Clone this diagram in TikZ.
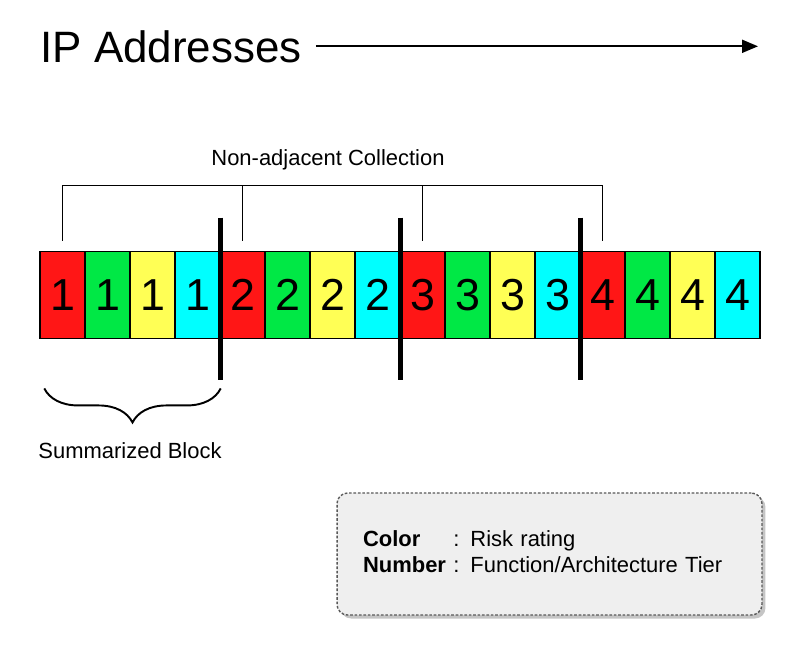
\documentclass[tikz,border=0pt]{standalone}
\usepackage{fontspec}
\setmainfont{Liberation Sans}
\usetikzlibrary{arrows.meta, positioning, calc, shadows, backgrounds,
                decorations.pathreplacing}
\definecolor{riskred}{HTML}{FF1616}
\definecolor{riskgreen}{HTML}{00E845}
\definecolor{riskyellow}{HTML}{FFFF55}
\definecolor{riskcyan}{HTML}{00FFFF}
\definecolor{legendgray}{HTML}{EFEFEF}

\begin{document}
\begin{tikzpicture}[
    x=0.02cm, y=-0.02cm,
    cell/.style={rectangle, draw=black, line width=0.8pt, fill=#1,
                 minimum width=0.9cm, minimum height=1.75cm, inner sep=0pt,
                 font=\fontsize{25.5}{30}\selectfont},
    divider/.style={line width=2.6pt},
    bracket/.style={line width=0.7pt},
    caption/.style={font=\fontsize{12.5}{15}\selectfont, inner sep=0pt},
    legendbox/.style={rectangle, rounded corners=6pt, draw=black!65, dashed,
                      dash pattern=on 1.5pt off 1pt, line width=0.8pt, fill=legendgray,
                      drop shadow={opacity=0.45, shadow xshift=2pt, shadow yshift=-2pt},
                      minimum width=8.5cm, minimum height=2.44cm,
                      text width=7.46cm, inner xsep=0.52cm, align=left,
                      font=\fontsize{12.5}{14.7}\selectfont}
]
\useasboundingbox (0,0) rectangle (800,660);
\fill[white] (0,0) rectangle (800,660);

% title and direction arrow
\node[anchor=base west, inner sep=0pt, font=\fontsize{25}{30}\selectfont]
    (title) at (40,62) {IP Addresses};
\coordinate (arrowend) at (758,47);
\draw[line width=1.1pt, -{Triangle[length=3.2mm, width=2.6mm]}]
    ($(title.east)+(14,0)$) -- (arrowend |- title.east);

% address cells
\foreach \col [count=\i] in {riskred, riskgreen, riskyellow, riskcyan,
                             riskred, riskgreen, riskyellow, riskcyan,
                             riskred, riskgreen, riskyellow, riskcyan,
                             riskred, riskgreen, riskyellow, riskcyan} {
    \pgfmathtruncatemacro\tier{(\i-1)/4+1}
    \node[cell=\col] (c\i) at ({17.5+45*\i},295) {\tier};
}
\begin{scope}[on background layer]
    \fill[white, drop shadow={opacity=0.5, shadow xshift=3pt, shadow yshift=-3pt}]
        (c1.north west) rectangle (c16.south east);
\end{scope}

% block dividers
\foreach \k in {4,8,12}
    \draw[divider] ($(c\k.north east)+(0,-33)$) -- ($(c\k.south east)+(0,41)$);

% non-adjacent collection bracket
\draw[bracket] ($(c1.north)+(0,-10)$) -- ++(0,-55) -| ($(c13.north)+(0,-10)$);
\foreach \k in {5,9}
    \draw[bracket] ($(c\k.north)+(0,-10)$) -- ++(0,-55);
\node[caption] (collection) at (328,160) {Non-adjacent Collection};

% summarized block brace
\draw[line width=1.1pt, decorate, decoration={brace, amplitude=0.68cm, mirror}]
    ($(c1.south west)+(5,49)$) -- ($(c4.south east)+(0,49)$);
\node[caption] (summary) at (130,451) {Summarized Block};

% legend
\node[legendbox] (legend) at (549.5,554)
    {\begin{tabular}{@{}l@{\ }l@{}}
     \textbf{Color} & : Risk rating\\
     \textbf{Number} & : Function/Architecture Tier
     \end{tabular}};
\end{tikzpicture}
\end{document}
